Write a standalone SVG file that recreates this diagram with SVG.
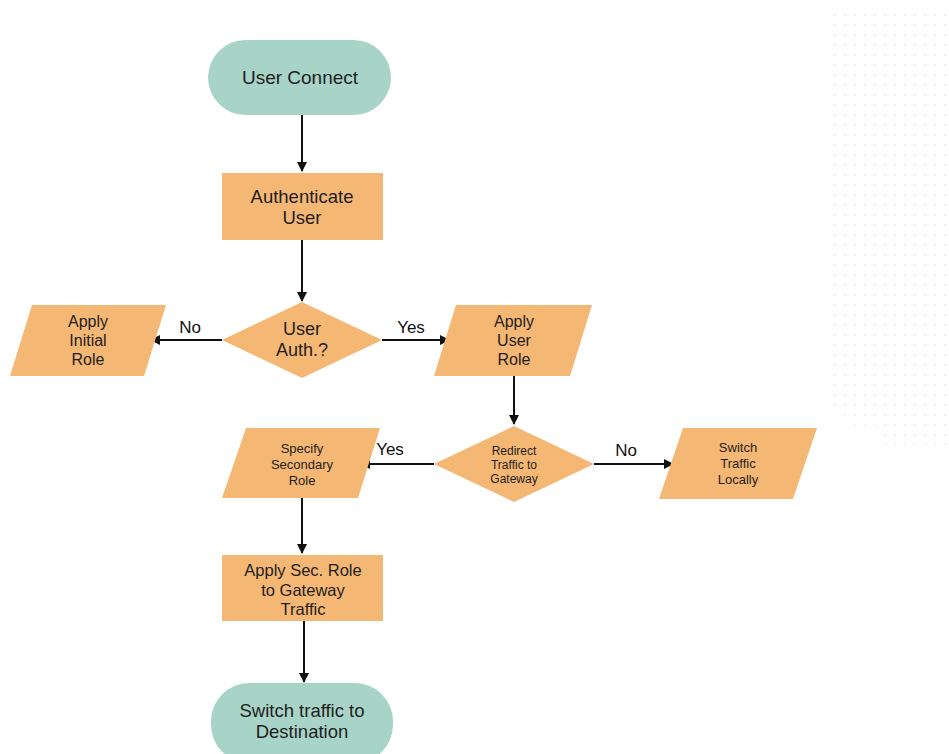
<svg xmlns="http://www.w3.org/2000/svg" width="949" height="754" viewBox="0 0 949 754">
<defs>
<marker id="ah" markerWidth="10" markerHeight="10" refX="9" refY="5" orient="auto" markerUnits="userSpaceOnUse">
<path d="M0,0 L10,5 L0,10 z" fill="#111"/>
</marker>
<pattern id="dots" x="0" y="0" width="10" height="10" patternUnits="userSpaceOnUse">
<circle cx="5" cy="5" r="1.1" fill="#f4e6d8"/>
</pattern>
<style>
.term{fill:#a8d4c7}
.proc{fill:#f5b774}
.t{font-family:"Liberation Sans",Arial,sans-serif;fill:#1e1e1e;text-anchor:middle}
.c{stroke:#111;stroke-width:2;fill:none;marker-end:url(#ah)}
.lbl{font-family:"Liberation Sans",Arial,sans-serif;fill:#111;font-size:17px;text-anchor:middle}
</style>
</defs>
<rect width="949" height="754" fill="#fff"/>
<path d="M833,12 H949 V445 H880 V425 H845 V410 H833 Z" fill="url(#dots)"/>
<g id="connectors">
<line class="c" x1="302" y1="115" x2="302" y2="171"/>
<line class="c" x1="302" y1="240" x2="302" y2="301"/>
<line class="c" x1="222" y1="340" x2="151" y2="340"/>
<text class="lbl" x="190" y="333">No</text>
<line class="c" x1="382" y1="340" x2="449" y2="340"/>
<text class="lbl" x="411" y="333">Yes</text>
<line class="c" x1="514" y1="376" x2="514" y2="424"/>
<line class="c" x1="434" y1="464" x2="361" y2="464"/>
<text class="lbl" x="390" y="455">Yes</text>
<line class="c" x1="594" y1="464" x2="673" y2="464"/>
<text class="lbl" x="626" y="456">No</text>
<line class="c" x1="302" y1="498" x2="302" y2="553"/>
<line class="c" x1="304" y1="621" x2="304" y2="682"/>
</g>
<g id="user-connect">
<rect class="term" x="208" y="40" width="183" height="75" rx="37.5"/>
<text class="t" x="300" y="84" font-size="19">User Connect</text>
</g>
<g id="authenticate-user">
<rect class="proc" x="222" y="173" width="161" height="67"/>
<text class="t" x="302" y="203" font-size="18.5">Authenticate</text>
<text class="t" x="302" y="224" font-size="18.5">User</text>
</g>
<g id="user-auth">
<polygon class="proc" points="302,302 382,340 302,378 222,340"/>
<text class="t" x="302" y="335" font-size="18">User</text>
<text class="t" x="302" y="356" font-size="18">Auth.?</text>
</g>
<g id="apply-initial-role">
<polygon class="proc" points="32,305 166,305 144,376 10,376"/>
<text class="t" x="88" y="327" font-size="16">Apply</text>
<text class="t" x="88" y="346" font-size="16">Initial</text>
<text class="t" x="88" y="365" font-size="16">Role</text>
</g>
<g id="apply-user-role">
<polygon class="proc" points="456,305 592,305 570,376 434,376"/>
<text class="t" x="514" y="327" font-size="16">Apply</text>
<text class="t" x="514" y="346" font-size="16">User</text>
<text class="t" x="514" y="365" font-size="16">Role</text>
</g>
<g id="redirect-traffic">
<polygon class="proc" points="514,426 594,464 514,502 434,464"/>
<text class="t" x="514" y="455" font-size="12">Redirect</text>
<text class="t" x="514" y="469" font-size="12">Traffic to</text>
<text class="t" x="514" y="483" font-size="12">Gateway</text>
</g>
<g id="specify-secondary-role">
<polygon class="proc" points="246,428 380,428 358,498 222,498"/>
<text class="t" x="302" y="453" font-size="13">Specify</text>
<text class="t" x="302" y="469" font-size="13">Secondary</text>
<text class="t" x="302" y="485" font-size="13">Role</text>
</g>
<g id="switch-traffic-locally">
<polygon class="proc" points="683,428 817,428 793,499 659,499"/>
<text class="t" x="738" y="452" font-size="13">Switch</text>
<text class="t" x="738" y="468" font-size="13">Traffic</text>
<text class="t" x="738" y="484" font-size="13">Locally</text>
</g>
<g id="apply-sec-role">
<rect class="proc" x="222" y="555" width="161" height="66"/>
<text class="t" x="303" y="576" font-size="16.5">Apply Sec. Role</text>
<text class="t" x="303" y="596" font-size="16.5">to Gateway</text>
<text class="t" x="303" y="615" font-size="16.5">Traffic</text>
</g>
<g id="switch-traffic-destination">
<rect class="term" x="211" y="683" width="182" height="80" rx="38"/>
<text class="t" x="302" y="717" font-size="18.5">Switch traffic to</text>
<text class="t" x="302" y="738" font-size="18.5">Destination</text>
</g>
</svg>
